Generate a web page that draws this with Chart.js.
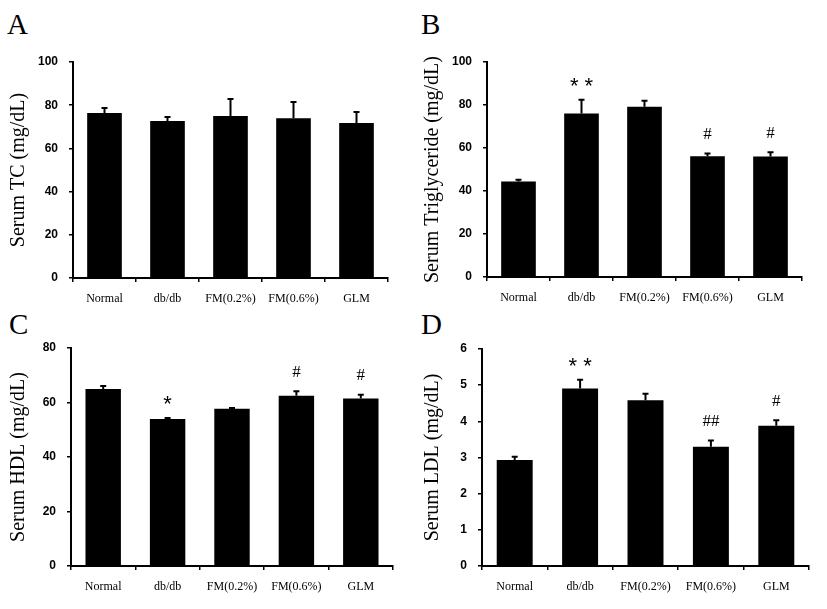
<!DOCTYPE html>
<html>
<head>
<meta charset="utf-8">
<script src="https://cdn.jsdelivr.net/npm/chart.js@4.4.1/dist/chart.umd.min.js"></script>
<style>
  body { margin: 0; background: #fff; }
  #wrap { position: relative; width: 827px; height: 609px; overflow: hidden; }
  canvas { position: absolute; }
  .tag { position: absolute; font-family: "Liberation Serif", "Times New Roman", serif; font-size: 29px; line-height: 1; color: #000; }
</style>
</head>
<body>
<div id="wrap">
  <div class="tag" style="left:7px;top:10px;">A</div>
  <div class="tag" style="left:421px;top:10px;">B</div>
  <div class="tag" style="left:9px;top:310px;">C</div>
  <div class="tag" style="left:421px;top:310px;">D</div>
  <canvas id="cA" style="left:0;top:0;"></canvas>
  <canvas id="cB" style="left:414px;top:0;"></canvas>
  <canvas id="cC" style="left:0;top:300px;"></canvas>
  <canvas id="cD" style="left:414px;top:300px;"></canvas>
</div>
<script>
// groups
var groups = ["Normal", "db/db", "FM(0.2%)", "FM(0.6%)", "GLM"];

// A: total cholesterol
var tcMean = [76.4, 72.7, 75.0, 74.0, 71.8];
var tcErr = [2.3, 1.8, 7.9, 7.5, 5.0];
var tcMarks = ["", "", "", "", ""];

// B: triglyceride
var tgMean = [44.4, 76.0, 79.2, 56.2, 56.0];
var tgErr = [0.8, 6.4, 2.8, 1.2, 2.0];
var tgMarks = ["", "**", "", "#", "#"];

// C: HDL
var hdlMean = [65.0, 53.9, 57.7, 62.5, 61.5];
var hdlErr = [1.1, 0.4, 0.3, 1.6, 1.3];
var hdlMarks = ["", "*", "", "#", "#"];

// D: LDL
var ldlMean = [2.93, 4.91, 4.58, 3.30, 3.88];
var ldlErr = [0.09, 0.24, 0.18, 0.17, 0.15];
var ldlMarks = ["", "**", "", "##", "#"];

// draws upper error bars and significance marks from the scales
var errorBars = {
  id: "errorBars",
  afterDatasetsDraw: function (chart) {
    var ctx = chart.ctx;
    var ds = chart.data.datasets[0];
    var meta = chart.getDatasetMeta(0);
    var y = chart.scales.y;
    ctx.save();
    ctx.strokeStyle = "#000";
    ctx.fillStyle = "#000";
    ctx.lineWidth = 2;
    meta.data.forEach(function (bar, i) {
      var top = y.getPixelForValue(ds.data[i]);
      var end = y.getPixelForValue(ds.data[i] + ds.errors[i]);
      ctx.beginPath();
      ctx.moveTo(bar.x, top);
      ctx.lineTo(bar.x, end);
      ctx.moveTo(bar.x - 3, end);
      ctx.lineTo(bar.x + 3, end);
      ctx.stroke();
      var m = ds.marks[i];
      if (!m) return;
      ctx.textAlign = "center";
      if (m.indexOf("*") >= 0) {
        // asterisks sit high in the em box, so use the baseline
        ctx.font = '22px "Liberation Sans", sans-serif';
        ctx.textBaseline = "alphabetic";
        ctx.fillText(m.split("").join(" "), bar.x, end - 19 + 12);
      } else {
        ctx.font = '17px "Liberation Serif", serif';
        ctx.textBaseline = "middle";
        ctx.fillText(m, bar.x, end - 19);
      }
    });
    ctx.restore();
  }
};

function makeChart(id, means, errs, marks, yMax, yStep, yTitle, box) {
  var cv = document.getElementById(id);
  cv.width = box.w;
  cv.height = box.h;
  cv.style.width = box.w + "px";
  cv.style.height = box.h + "px";
  return new Chart(cv.getContext("2d"), {
    type: "bar",
    data: {
      labels: groups,
      datasets: [
        {
          data: means,
          errors: errs,
          marks: marks,
          backgroundColor: "#000",
          borderWidth: 0,
          barPercentage: 0.55,
          categoryPercentage: 1.0,
        },
      ],
    },
    options: {
      responsive: false,
      animation: false,
      devicePixelRatio: 1,
      layout: { padding: { left: 0, top: box.top, right: box.w - box.right, bottom: 0 } },
      plugins: { legend: { display: false }, tooltip: { enabled: false } },
      scales: {
        x: {
          grid: { display: true, offset: true, drawOnChartArea: false, drawTicks: true, tickLength: 4, color: "#000", lineWidth: 1.5 },
          border: { display: true, color: "#000", width: 2 },
          ticks: { color: "#000", padding: 10, font: { family: '"Liberation Serif", serif', size: 12 }, maxRotation: 0, autoSkip: false },
          afterFit: function (s) { s.height = box.h - box.bottom; },
        },
        y: {
          min: 0,
          max: yMax,
          grid: { display: true, drawOnChartArea: false, drawTicks: true, tickLength: 4, color: "#000", lineWidth: 1.5 },
          border: { display: true, color: "#000", width: 2 },
          ticks: { stepSize: yStep, color: "#000", padding: 11, font: { family: '"Liberation Sans", sans-serif', size: 12, weight: "bold" } },
          title: { display: true, text: yTitle, color: "#000", padding: { top: 7, bottom: 0 }, font: { family: '"Liberation Serif", serif', size: 20 } },
          afterFit: function (s) { s.width = box.left; },
        },
      },
    },
    plugins: [errorBars],
  });
}

makeChart("cA", tcMean, tcErr, tcMarks, 100, 20, "Serum TC (mg/dL)", { w: 413, h: 305, left: 73, top: 62, right: 388, bottom: 278 });
makeChart("cB", tgMean, tgErr, tgMarks, 100, 20, "Serum Triglyceride (mg/dL)", { w: 413, h: 305, left: 73, top: 62, right: 388, bottom: 277 });
makeChart("cC", hdlMean, hdlErr, hdlMarks, 80, 20, "Serum HDL (mg/dL)", { w: 413, h: 309, left: 71, top: 48, right: 393, bottom: 266 });
makeChart("cD", ldlMean, ldlErr, ldlMarks, 6, 1, "Serum LDL (mg/dL)", { w: 413, h: 309, left: 68, top: 49, right: 395, bottom: 266 });
</script>
</body>
</html>
